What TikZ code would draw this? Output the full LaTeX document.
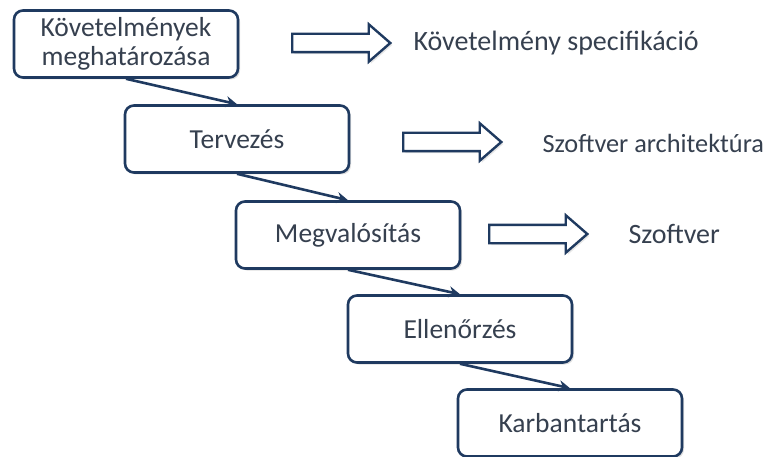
\documentclass[tikz,border=0pt]{standalone}
\usepackage{fontspec}
\setmainfont{Carlito}
\usetikzlibrary{shapes.arrows,shadows,arrows.meta}
\definecolor{navy}{HTML}{1F3A60}
\definecolor{txtgray}{HTML}{36404F}

\begin{document}
\begin{tikzpicture}[x=1pt, y=-1pt,
  every node/.style={font=\fontsize{27.5}{29}\selectfont, text=txtgray},
  phase/.style={draw=navy, line width=2.6pt, rounded corners=9pt, fill=white,
    minimum width=224pt, minimum height=67pt, align=center,
    drop shadow={shadow xshift=2pt, shadow yshift=-2pt, opacity=.25}},
  flow/.style={draw=navy, line width=2.6pt, -{Stealth[length=11pt,width=11pt]}},
  result/.style={single arrow, draw=navy, line width=2.4pt, fill=white,
    minimum height=98pt, inner xsep=0pt, inner ysep=8pt,
    single arrow head extend=9.5pt, single arrow tip angle=82,
    drop shadow={shadow xshift=2pt, shadow yshift=-2pt, opacity=.2}},
  label/.style={anchor=west, font=\fontsize{28}{30}\selectfont}]
\useasboundingbox (0,0) rectangle (773,457);
% phases
\node[phase] (req) at (126,44) {Követelmények\\meghatározása};
\node[phase] (design) at (237,139) {Tervezés};
\node[phase] (impl) at (348,235) {Megvalósítás};
\node[phase] (verif) at (460,329) {Ellenőrzés};
\node[phase] (maint) at (570,423) {Karbantartás};
% waterfall steps
\draw[flow] (req.south) -- (design.north);
\draw[flow] (design.south) -- (impl.north);
\draw[flow] (impl.south) -- (verif.north);
\draw[flow] (verif.south) -- (maint.north);
% outputs
\node[result] (out1) at (336,43) {};
\node[result] (out2) at (447,142) {};
\node[result] (out3) at (533,234) {};
\node[label] (spec) at (410,43) {Követelmény specifikáció};
\node[label, font=\fontsize{26.3}{30}\selectfont] (arch) at (539,143) {Szoftver architektúra};
\node[label] (sw) at (625,234) {Szoftver};
\end{tikzpicture}
\end{document}
